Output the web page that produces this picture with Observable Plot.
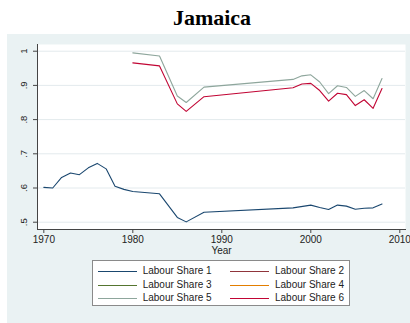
<!DOCTYPE html>
<html><head><meta charset="utf-8">
<script src="https://cdn.jsdelivr.net/npm/d3@7"></script>
<script src="https://cdn.jsdelivr.net/npm/@observablehq/plot@0.6"></script>
<style>
body{margin:0;background:#fff;width:410px;height:323px;overflow:hidden;position:relative;font-family:"Liberation Sans",Arial,sans-serif}
#title{position:absolute;left:14px;top:0;width:396px;height:34px;text-align:center;font:bold 22px "Liberation Serif","Times New Roman",serif;line-height:36px;color:#000}
#region{position:absolute;left:7px;top:34px;width:403px;height:289px;background:#eaf2f3}
#chart{position:absolute;left:0;top:0}
#legend{position:absolute;left:85px;top:226px;width:256px;height:44px;background:#fff;border:1px solid #8a8a8a}
.item{position:absolute;height:12px}
.item .ln{position:absolute;left:0;top:6px;width:39px;height:1px}
.item .tx{position:absolute;left:45px;top:0;font-size:10px;line-height:12px;color:#222;white-space:nowrap}
</style></head>
<body>
<div id="title">Jamaica</div>
<div id="region"><div id="chart"></div><div id="legend"></div></div>
<script>
const years1 = [1970,1971,1972,1973,1974,1975,1976,1977,1978,1979,1980,1983,1985,1986,1988,1998,2000,2001,2002,2003,2004,2005,2006,2007,2008];
const share1 = [0.602,0.600,0.631,0.644,0.639,0.659,0.672,0.656,0.605,0.596,0.590,0.583,0.514,0.501,0.529,0.542,0.550,0.543,0.537,0.550,0.547,0.538,0.541,0.542,0.553];
const years56 = [1980,1983,1985,1986,1988,1998,1999,2000,2001,2002,2003,2004,2005,2006,2007,2008];
const share5 = [0.995,0.986,0.869,0.850,0.895,0.9175,0.928,0.931,0.910,0.876,0.899,0.894,0.868,0.885,0.861,0.920];
const share6 = [0.966,0.957,0.846,0.824,0.867,0.893,0.904,0.906,0.885,0.854,0.877,0.873,0.841,0.858,0.833,0.891];
const seriesNames = ["Labour Share 1","Labour Share 2","Labour Share 3","Labour Share 4","Labour Share 5","Labour Share 6"];
const seriesColors = ["#1a476f","#90353b","#55752f","#e37e00","#8ea69c","#c10534"];
const xTicks = [1970,1980,1990,2000,2010];
const yTicks = [0.5,0.6,0.7,0.8,0.9,1];

const d1 = years1.map((y,i)=>({year:y,value:share1[i],s:seriesNames[0]}));
const d5 = years56.map((y,i)=>({year:y,value:share5[i],s:seriesNames[4]}));
const d6 = years56.map((y,i)=>({year:y,value:share6[i],s:seriesNames[5]}));

const fmtY = d => d===1 ? "1" : String(d).replace(/^0/,"");

const chart = Plot.plot({
  width:403, height:222,
  marginLeft:30, marginRight:5, marginTop:10, marginBottom:27,
  style:{background:"transparent", fontFamily:"'Liberation Sans',Arial,sans-serif", fontSize:"9.5px", color:"#222"},
  x:{domain:[1969.29,2010.64]},
  y:{domain:[0.4787,1.0196]},
  marks:[
    Plot.frame({fill:"white", stroke:null}),
    Plot.gridY(yTicks,{stroke:"#e3eaed", strokeOpacity:1}),
    Plot.line(d1,{x:"year",y:"value",stroke:seriesColors[0],strokeWidth:1.1}),
    Plot.line(d5,{x:"year",y:"value",stroke:seriesColors[4],strokeWidth:1.1}),
    Plot.line(d6,{x:"year",y:"value",stroke:seriesColors[5],strokeWidth:1.1}),
    Plot.frame({anchor:"left", stroke:"#444"}),
    Plot.frame({anchor:"bottom", stroke:"#444"}),
    Plot.axisY(yTicks,{tickSize:4, tickFormat:fmtY, tickRotate:-90, tickPadding:7, label:null, stroke:"#444"}),
    Plot.axisX(xTicks,{tickSize:4, tickFormat:"d", tickPadding:2, label:"Year", labelAnchor:"center", labelArrow:"none", labelOffset:24, stroke:"#444", fontSize:10})
  ]
});
document.getElementById("chart").appendChild(chart);

const legend = document.getElementById("legend");
const rowTops = [4, 17.7, 31.3];
const colLefts = [4.7, 137];
seriesNames.forEach((name,i)=>{
  const it = document.createElement("div");
  it.className="item";
  it.style.left = colLefts[i%2]+"px";
  it.style.top = rowTops[Math.floor(i/2)]+"px";
  it.innerHTML = `<div class="ln" style="background:${seriesColors[i]}"></div><div class="tx">${name}</div>`;
  legend.appendChild(it);
});
</script>
</body></html>
